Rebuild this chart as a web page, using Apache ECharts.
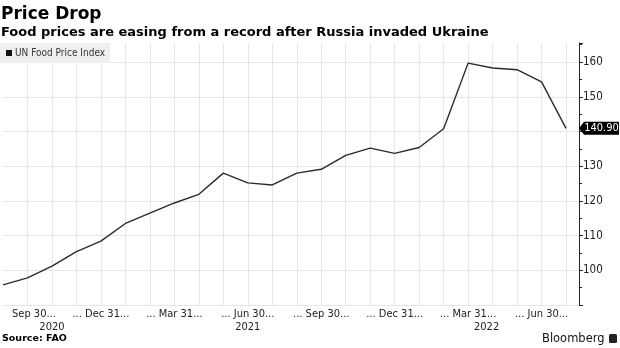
<!DOCTYPE html>
<html>
<head>
<meta charset="utf-8">
<script src="https://cdn.jsdelivr.net/npm/echarts@6/dist/echarts.min.js"></script>
<style>
  html, body { margin: 0; padding: 0; background: #fff; }
  #chart { width: 620px; height: 348px; }
</style>
</head>
<body>
<div id="chart"></div>
<script>
// Monthly UN Food Price Index, Aug 2020 - Jul 2022
const months = ['2020-08','2020-09','2020-10','2020-11','2020-12',
  '2021-01','2021-02','2021-03','2021-04','2021-05','2021-06','2021-07',
  '2021-08','2021-09','2021-10','2021-11','2021-12',
  '2022-01','2022-02','2022-03','2022-04','2022-05','2022-06','2022-07'];
const foodIndex = [95.8, 97.8, 101.2, 105.4, 108.4,
  113.5, 116.5, 119.4, 121.9, 128.0, 125.2, 124.6,
  128.0, 129.1, 133.1, 135.2, 133.7,
  135.4, 140.8, 159.7, 158.3, 157.8, 154.3, 140.9];

// Quarter-end tick labels (by month index) and year labels
const quarterIdx = [1, 4, 7, 10, 13, 16, 19, 22];
const quarterText = ['Sep 30...', '... Dec 31...', '... Mar 31...', '... Jun 30...',
  '... Sep 30...', '... Dec 31...', '... Mar 31...', '... Jun 30...'];
const yearIdx = [2, 10, 20];
const yearText = ['2020', '2021', '2022'];
const yTicks = [100, 110, 120, 130, 140, 150, 160];

const FONT = "'DejaVu Sans Condensed', 'DejaVu Sans', sans-serif";
const BOLD = "'DejaVu Sans', sans-serif";

const lastIdx = foodIndex.length - 1;
const lastVal = foodIndex[lastIdx];

const chart = echarts.init(document.getElementById('chart'), null, { renderer: 'canvas' });

chart.setOption({
  animation: false,
  backgroundColor: '#fff',
  textStyle: { fontFamily: FONT },
  title: [
    { text: 'Price Drop', left: 1, top: 6, padding: 0,
      textStyle: { fontFamily: BOLD, fontWeight: 'bold', fontSize: 17, color: '#000' } },
    { text: 'Food prices are easing from a record after Russia invaded Ukraine', left: 1, top: 26, padding: 0,
      textStyle: { fontFamily: BOLD, fontWeight: 'bold', fontSize: 13, color: '#000' } },
    { text: 'Source: FAO', left: 2, top: 334, padding: 0,
      textStyle: { fontFamily: BOLD, fontWeight: 'bold', fontSize: 9.5, color: '#000' } },
    { text: 'Bloomberg', left: 542, top: 333, padding: 0,
      textStyle: { fontFamily: BOLD, fontWeight: 'normal', fontSize: 11.5, color: '#111' } }
  ],
  legend: {
    left: 0, top: 43,
    padding: [5, 5, 5, 6],
    backgroundColor: '#efefef',
    icon: 'rect', itemWidth: 6, itemHeight: 6, itemGap: 4,
    textStyle: { fontFamily: FONT, fontSize: 10, color: '#333', padding: [0, 0, 0, -2] },
    data: ['UN Food Price Index']
  },
  grid: { left: 0, right: 41, top: 43, bottom: 43, containLabel: false },
  xAxis: [
    {
      type: 'value', min: 0, max: 23.53, interval: 1,
      axisLine: { show: false }, axisTick: { show: false },
      splitLine: { show: true, showMinLine: false, showMaxLine: false,
        lineStyle: { color: '#e6e6e6', width: 1 } },
      axisLabel: {
        margin: 4, fontSize: 11, color: '#222', fontFamily: FONT,
        showMinLabel: true, showMaxLabel: false,
        formatter: function (v) {
          const k = quarterIdx.indexOf(v);
          if (k < 0) return '';
          return k === 0 ? '{first|' + quarterText[k] + '}' : quarterText[k];
        },
        rich: { first: { fontSize: 11, color: '#222', fontFamily: FONT, padding: [0, 0, 0, 13] } }
      }
    },
    {
      type: 'value', min: 0, max: 23.53, interval: 1, position: 'bottom',
      axisLine: { show: false }, axisTick: { show: false }, splitLine: { show: false },
      axisLabel: {
        margin: 17, fontSize: 11, color: '#222', fontFamily: FONT,
        showMaxLabel: false,
        formatter: function (v) {
          const k = yearIdx.indexOf(v);
          if (k < 0) return '';
          return k === 2 ? '{last|' + yearText[k] + '}' : yearText[k];
        },
        rich: { last: { fontSize: 11, color: '#222', fontFamily: FONT, padding: [0, 12, 0, 0] } }
      }
    }
  ],
  yAxis: {
    type: 'value', position: 'right', min: 90, max: 165.5, interval: 10,
    axisLine: { show: true, onZero: false, lineStyle: { color: '#222', width: 1 } },
    axisTick: { show: true, length: 4, lineStyle: { color: '#222' } },
    minorTick: { show: true, splitNumber: 2, length: 3, lineStyle: { color: '#222' } },
    splitLine: { show: true, showMinLine: true, showMaxLine: false,
      lineStyle: { color: '#e6e6e6', width: 1 } },
    axisLabel: {
      margin: 4, fontSize: 11.5, color: '#222', fontFamily: FONT,
      formatter: function (v) { return yTicks.indexOf(v) >= 0 ? String(v) : ''; }
    }
  },
  series: [{
    name: 'UN Food Price Index',
    type: 'line',
    xAxisIndex: 0,
    data: foodIndex.map((v, i) => [i, v]),
    showSymbol: false,
    symbol: 'none',
    clip: false,
    itemStyle: { color: '#111' },
    lineStyle: { color: '#2b2b2b', width: 1.4 },
    markPoint: {
      silent: true,
      symbol: 'path://M0,6.5L5,0L40,0L40,13L5,13Z',
      symbolSize: [40, 13],
      symbolOffset: [33, 0],
      itemStyle: { color: '#000' },
      label: {
        show: true, position: 'inside', offset: [2.5, 0],
        color: '#fff', fontSize: 11, fontFamily: FONT,
        formatter: function (p) { return p.value.toFixed(2); }
      },
      data: [{ coord: [lastIdx, lastVal], value: lastVal }]
    }
  }],
  graphic: [{
    // Bloomberg mark beside the wordmark
    type: 'rect', left: 609, top: 334, shape: { width: 8, height: 9, r: 1.5 },
    style: { fill: '#222' }
  }]
});
</script>
</body>
</html>
